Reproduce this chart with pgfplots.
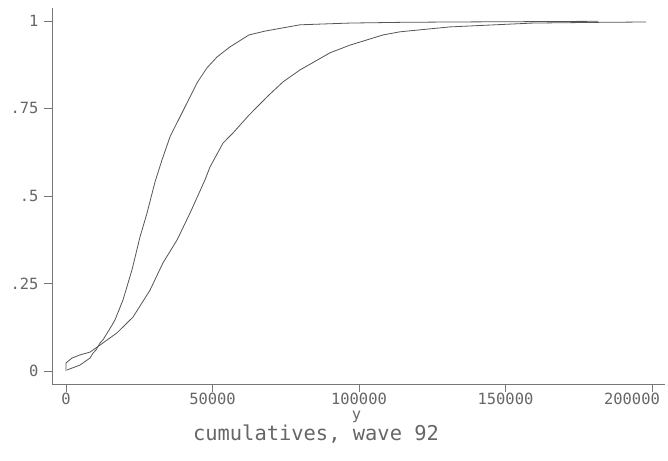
\documentclass[border=0pt]{standalone}
\usepackage{fontspec}
\setmainfont{DejaVu Sans Mono}
\usepackage{pgfplots}
\pgfplotsset{compat=1.18}
\definecolor{txt}{HTML}{666666}
\definecolor{ln}{HTML}{555555}
\definecolor{ax}{HTML}{777777}
\begin{document}
\begin{tikzpicture}
\begin{axis}[
  at={(0,0)}, anchor=south west,
  scale only axis,
  width=613bp, height=376bp,
  xmin=-4778, xmax=204439,
  ymin=-0.0371, ymax=1.037,
  axis x line*=bottom, axis y line*=left,
  axis line style={ax, line width=0.8bp},
  tick style={ax, line width=0.8bp},
  tick align=outside,
  major tick length=8bp,
  scaled x ticks=false,
  xtick={0,50000,100000,150000,200000},
  xticklabels={0,50000,100000,150000,{\hspace*{-40bp}200000}},
  ytick={0,0.25,0.5,0.75,1},
  yticklabels={0,.25,.5,.75,1},
  ticklabel style={font=\fontsize{15.5}{15.5}\selectfont, text=txt},
  xticklabel style={yshift=2bp},
  yticklabel style={xshift=-2bp},
  xlabel={y},
  xlabel style={font=\fontsize{15.5}{15.5}\selectfont, text=txt, at={(rel axis cs:0.5,0)}, anchor=center, yshift=-33bp, xshift=-2bp},
  clip=false,
]
\addplot[ln, line width=0.8bp] coordinates {
(341,0.003) (4778,0.017) (8191,0.037) (9215,0.051) (10239,0.06) (11604,0.08)
(12628,0.089) (13652,0.103) (15700,0.131) (16724,0.146) (19454,0.203)
(22526,0.289) (25256,0.383) (27645,0.451) (30376,0.54) (32765,0.603)
(35495,0.669) (38908,0.726) (42321,0.783) (44710,0.823) (48123,0.866)
(51536,0.897) (55973,0.926) (62458,0.96) (67919,0.971) (79864,0.989)
(96929,0.994) (113994,0.996) (131059,0.997) (181572,0.999)
};
\addplot[ln, line width=0.8bp] coordinates {
(0,0) (0,0.023) (2048,0.037) (4778,0.046) (8191,0.054) (11604,0.074)
(17406,0.109) (22867,0.154) (28669,0.231) (33106,0.309) (37884,0.374)
(42321,0.451) (47441,0.546) (49147,0.583) (53584,0.651) (56997,0.68)
(62458,0.731) (68601,0.783) (74062,0.826) (79864,0.86) (90103,0.909)
(96929,0.931) (108192,0.96) (113994,0.969) (131059,0.983) (159387,0.994)
(182000,0.996) (197954,0.997)
};
\end{axis}
\node[font=\fontsize{20.5}{20.5}\selectfont, text=txt] at (264bp,-50bp) {cumulatives, wave 92};
\pgfresetboundingbox
\path (-52bp,-77bp) rectangle (616bp,384bp);
\end{tikzpicture}
\end{document}
